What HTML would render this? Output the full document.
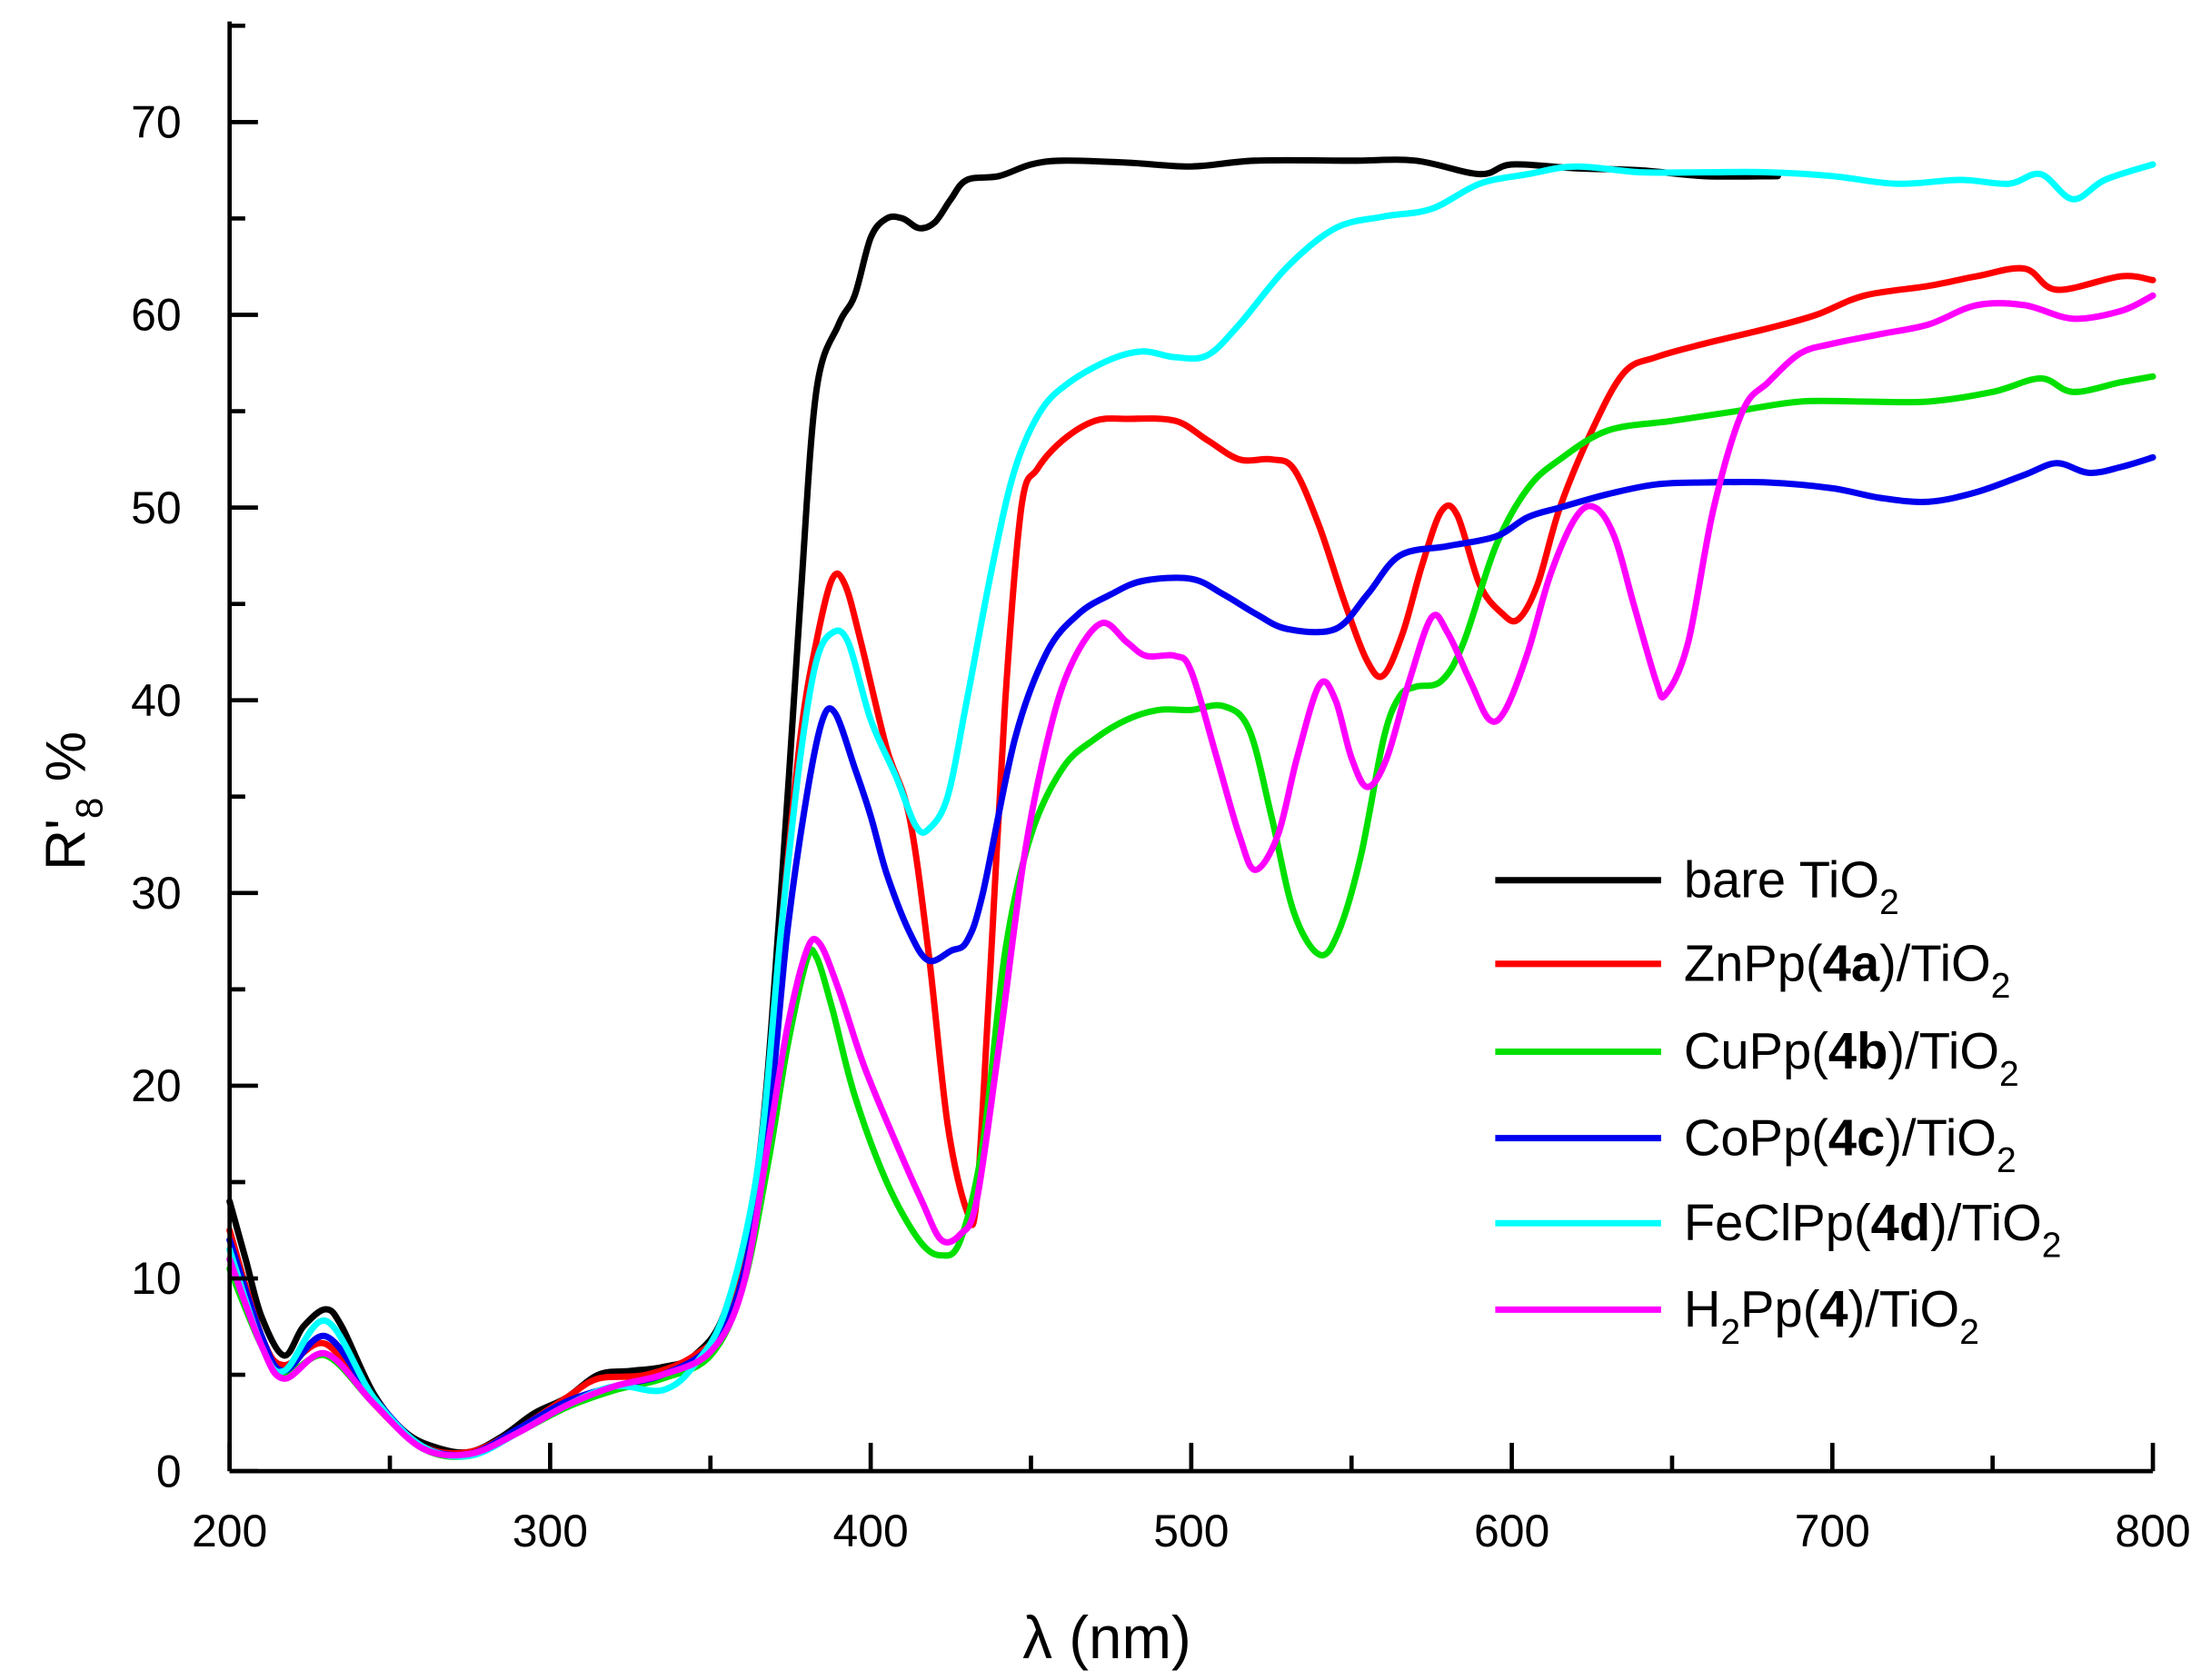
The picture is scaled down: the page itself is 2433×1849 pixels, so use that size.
<!DOCTYPE html>
<html><head><meta charset="utf-8"><style>
html,body{margin:0;padding:0;background:#fff;}
svg text{font-family:"Liberation Sans",sans-serif;fill:#000;}
</style></head><body>
<svg id="chart" width="2433" height="1844" viewBox="0 0 1560 1182" xmlns="http://www.w3.org/2000/svg">
<g id="plot"></g>
<g id="axes"></g>
<text x="781" y="1170" font-size="42" text-anchor="middle">λ (nm)</text>
<text transform="translate(60,565) rotate(-90)" font-size="40" text-anchor="middle">R'<tspan font-size="27" dy="12">8</tspan><tspan dy="-12"> %</tspan></text>
<g id="legend"></g>
</svg>
<script>
const xTicks=[200,300,400,500,600,700,800];
const yTicks=[0,10,20,30,40,50,60,70];
const seriesNames=["bare TiO2","ZnPp(4a)/TiO2","CuPp(4b)/TiO2","CoPp(4c)/TiO2","FeClPp(4d)/TiO2","H2Pp(4)/TiO2"];
const seriesColors=["#000000","#ff0000","#00e000","#0000ee","#00ffff","#ff00ff"];
const bare=[[200,14],[205,11],[210,8],[217,6],[223,7.5],[230,8.4],[235,7.5],[245,4],[255,2],[265,1.2],[275,1],[285,1.8],[295,3],[305,3.8],[315,5],[325,5.2],[335,5.4],[345,6],[355,8.5],[365,16],[372,30],[378,45],[383,56],[390,59.5],[395,61],[400,64],[405,65],[410,65],[415,64.5],[420,64.8],[425,66],[430,67],[440,67.2],[450,67.8],[460,68],[480,67.9],[500,67.7],[520,68],[550,68],[570,68],[590,67.3],[600,67.8],[620,67.6],[640,67.5],[660,67.2],[683,67.2]];
const znpp=[[200,12.5],[210,7],[217,5.5],[230,6.6],[245,3.5],[260,1.3],[275,1],[290,2.2],[305,3.8],[315,4.8],[330,5],[345,6],[355,8],[365,15],[372,28],[378,38],[383,43],[388,46.3],[392,46],[397,43],[405,37.5],[412,34],[418,27],[424,18],[430,13.5],[433,14],[437,25],[442,40],[447,50],[452,52],[460,53.5],[470,54.5],[480,54.6],[495,54.5],[505,53.5],[515,52.5],[525,52.5],[532,52],[540,49],[548,45],[555,42],[560,41.3],[566,43.5],[572,47],[578,49.8],[583,49.6],[590,46],[597,44.5],[602,44.2],[608,46],[615,50],[625,54],[635,57],[645,57.8],[660,58.5],[680,59.3],[695,60],[710,61],[730,61.5],[745,62],[760,62.4],[770,61.3],[790,62],[800,61.8]];
const cupp=[[200,10.5],[210,6.5],[217,5],[230,6],[245,3.5],[260,1.2],[275,0.8],[290,2],[305,3.3],[320,4.2],[335,4.8],[350,6],[360,9.5],[368,16],[374,22],[380,26.5],[383,26.7],[388,24],[395,19.5],[405,15],[415,12],[422,11.2],[428,12],[435,17],[442,27],[450,33],[460,36.5],[470,38],[480,39],[490,39.5],[500,39.5],[510,39.7],[518,38.5],[525,34],[532,29],[540,26.8],[546,28],[553,32],[560,38],[565,40.2],[570,40.7],[578,41],[585,43],[595,48],[605,51],[615,52.5],[630,54],[650,54.5],[670,55],[690,55.5],[710,55.5],[730,55.5],[750,56],[765,56.7],[775,56],[790,56.5],[800,56.8]];
const copp=[[200,12],[210,7],[217,5.2],[230,7],[245,3.8],[260,1.3],[275,0.9],[290,2.2],[305,3.6],[320,4.4],[335,5],[350,6.5],[360,10],[368,18],[374,28],[380,35],[385,39],[389,39.3],[395,36.5],[400,34],[405,31],[412,28],[418,26.5],[425,27],[430,27.5],[435,30],[445,38],[455,42.5],[465,44.5],[475,45.5],[485,46.2],[500,46.3],[510,45.5],[520,44.5],[530,43.7],[545,43.7],[555,45.5],[565,47.5],[580,48],[595,48.5],[605,49.5],[615,50],[630,50.7],[645,51.2],[660,51.3],[680,51.3],[700,51],[715,50.5],[730,50.3],[745,50.8],[760,51.7],[770,52.3],[780,51.8],[790,52.1],[800,52.6]];
const feclpp=[[200,11.5],[210,6.5],[217,5.2],[230,7.8],[245,3.8],[260,1.3],[275,0.8],[290,2],[305,3.4],[320,4.4],[335,4.2],[345,5.5],[355,8.5],[365,16],[372,28],[378,37],[383,42],[388,43.5],[393,43],[400,39],[408,36],[414,33.5],[418,33.3],[424,35],[430,40],[438,47],[445,52],[453,55],[462,56.5],[475,57.7],[485,58.1],[495,57.8],[505,57.9],[515,59.5],[530,62.5],[545,64.5],[560,65.1],[575,65.5],[590,66.8],[605,67.3],[620,67.7],[640,67.4],[660,67.4],[680,67.4],[700,67.2],[720,66.8],[740,67],[755,66.8],[765,67.3],[775,66],[785,67],[800,67.8]];
const h2pp=[[200,11],[210,6.5],[217,4.8],[230,6.1],[245,3.5],[260,1.2],[275,0.9],[290,2],[305,3.4],[320,4.4],[335,5],[350,6.2],[360,9.5],[368,17],[374,23],[380,27],[384,27.4],[390,25],[398,21],[408,17],[416,14],[422,12],[428,12.3],[433,14],[440,22],[448,32],[456,38.5],[463,42],[472,44],[480,43],[486,42.3],[495,42.3],[500,41.5],[508,37],[515,33],[520,31.2],[527,33],[533,37],[540,40.8],[545,40],[550,37],[555,35.5],[561,37],[568,41],[575,44.3],[580,43.5],[587,41],[593,39],[598,39.5],[605,42.5],[612,46.5],[620,49.5],[626,50],[632,48.5],[638,45],[645,41],[648,40.3],[655,43],[663,50],[672,55],[680,56.5],[690,58],[700,58.5],[715,59],[730,59.5],[745,60.5],[760,60.5],[775,59.8],[790,60.2],[800,61]];
const allSeries=[bare,znpp,cupp,copp,feclpp,h2pp];
const seriesKeys=["bare","znpp","cupp","copp","feclpp","h2pp"];

const X0=162,X1=1519,Y0=1038,Y70=86;
const sx=v=>X0+(v-200)*(X1-X0)/600;
const sy=v=>Y0-v*(Y0-Y70)/70;
const NS="http://www.w3.org/2000/svg";
function mk(tag,attrs,parent){const e=document.createElementNS(NS,tag);for(const k in attrs)e.setAttribute(k,attrs[k]);parent.appendChild(e);return e;}
function smoothPath(pts){
  let d='M'+pts[0][0].toFixed(1)+','+pts[0][1].toFixed(1);
  for(let i=0;i<pts.length-1;i++){
    const p0=pts[Math.max(0,i-1)],p1=pts[i],p2=pts[i+1],p3=pts[Math.min(pts.length-1,i+2)];
    const t=1/6;
    const c1x=p1[0]+(p2[0]-p0[0])*t,c1y=p1[1]+(p2[1]-p0[1])*t;
    const c2x=p2[0]-(p3[0]-p1[0])*t,c2y=p2[1]-(p3[1]-p1[1])*t;
    d+=' C'+c1x.toFixed(1)+','+c1y.toFixed(1)+' '+c2x.toFixed(1)+','+c2y.toFixed(1)+' '+p2[0].toFixed(1)+','+p2[1].toFixed(1);
  }
  return d;
}
const plot=document.getElementById('plot'),axes=document.getElementById('axes'),legend=document.getElementById('legend');
allSeries.forEach((s,i)=>{
  const pts=s.map(p=>[sx(p[0]),sy(p[1])]);
  const pl=mk('path',{d:smoothPath(pts),fill:'none',stroke:seriesColors[i],'stroke-width':4.5,'stroke-linejoin':'round','stroke-linecap':'round'},plot);
  
  
});
const ya=mk('line',{x1:X0,y1:15,x2:X0,y2:Y0,stroke:'#000','stroke-width':3},axes);


const xa=mk('line',{x1:X0,y1:Y0,x2:X1,y2:Y0,stroke:'#000','stroke-width':3},axes);


for(let v=0;v<=75;v+=5){const major=v%10===0;mk('line',{x1:X0,y1:sy(v),x2:X0+(major?20:11),y2:sy(v),stroke:'#000','stroke-width':3},axes);}
for(let v=200;v<=800;v+=50){const major=v%100===0;mk('line',{x1:sx(v),y1:Y0,x2:sx(v),y2:Y0-(major?20:11),stroke:'#000','stroke-width':3},axes);}
yTicks.forEach(v=>{const t=mk('text',{x:128,y:sy(v)+11,'font-size':32,'text-anchor':'end'},axes);t.textContent=v;
  
  });
xTicks.forEach(v=>{const t=mk('text',{x:sx(v),y:1091,'font-size':32,'text-anchor':'middle'},axes);t.textContent=v;
  
  });
const legY=[621,680,742,803,863,924];
const legHTML=['bare TiO<tspan font-size="25" dy="12">2</tspan>',
'ZnPp(<tspan font-weight="bold">4a</tspan>)/TiO<tspan font-size="25" dy="12">2</tspan>',
'CuPp(<tspan font-weight="bold">4b</tspan>)/TiO<tspan font-size="25" dy="12">2</tspan>',
'CoPp(<tspan font-weight="bold">4c</tspan>)/TiO<tspan font-size="25" dy="12">2</tspan>',
'FeClPp(<tspan font-weight="bold">4d</tspan>)/TiO<tspan font-size="25" dy="12">2</tspan>',
'H<tspan font-size="25" dy="12">2</tspan><tspan dy="-12">Pp(</tspan><tspan font-weight="bold">4</tspan>)/TiO<tspan font-size="25" dy="12">2</tspan>'];
seriesNames.forEach((n,i)=>{
  const g=mk('g',{},legend);
  
  
  mk('line',{x1:1055,y1:legY[i],x2:1172,y2:legY[i],stroke:seriesColors[i],'stroke-width':4.5},g);
  const t=mk('text',{x:1188,y:legY[i]+12,'font-size':36},g);t.innerHTML=legHTML[i];
});
</script>
</body></html>
